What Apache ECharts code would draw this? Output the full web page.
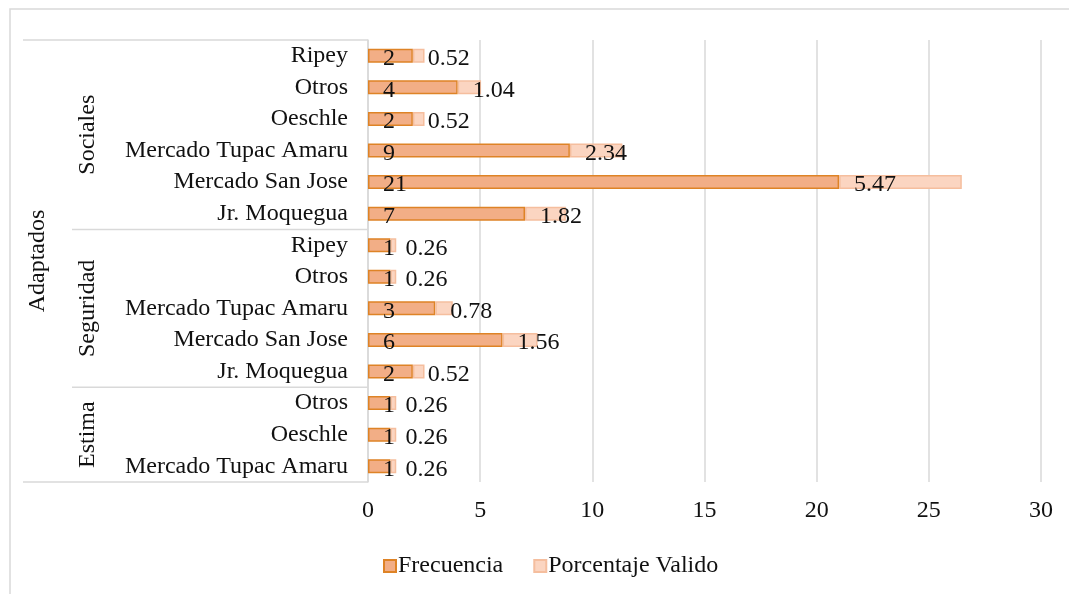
<!DOCTYPE html>
<html>
<head>
<meta charset="utf-8">
<script src="https://cdn.jsdelivr.net/npm/echarts@6/dist/echarts.min.js"></script>
<style>
  html, body { margin: 0; padding: 0; background: #fff; }
  #chart { width: 1069px; height: 594px; }
</style>
</head>
<body>
<div id="chart"></div>
<script>
// top-level group and its sub-groups (top to bottom)
var topGroup = 'Adaptados';
var groupNames = ['Sociales', 'Seguridad', 'Estima'];
var groupItems = [
  ['Ripey', 'Otros', 'Oeschle', 'Mercado Tupac Amaru', 'Mercado San Jose', 'Jr. Moquegua'],
  ['Ripey', 'Otros', 'Mercado Tupac Amaru', 'Mercado San Jose', 'Jr. Moquegua'],
  ['Otros', 'Oeschle', 'Mercado Tupac Amaru']
];
var frecuencia = [2, 4, 2, 9, 21, 7, 1, 1, 3, 6, 2, 1, 1, 1];
var porcentaje = [0.52, 1.04, 0.52, 2.34, 5.47, 1.82, 0.26, 0.26, 0.78, 1.56, 0.52, 0.26, 0.26, 0.26];
var xTicks = [0, 5, 10, 15, 20, 25, 30];

var FONT = 'Liberation Serif, Times New Roman, serif';
var FS = 24;
var TXT = '#111';

// unique keys for the category axis (same item name appears in several groups)
var catKeys = [];
groupNames.forEach(function (g, gi) {
  groupItems[gi].forEach(function (it) { catKeys.push(g + '|' + it); });
});

var chart = echarts.init(document.getElementById('chart'));

var option = {
  animation: false,
  grid: { left: 368, right: 28, top: 40, bottom: 112 },
  legend: {
    left: 378, top: 549,
    icon: 'rect',
    itemWidth: 12, itemHeight: 12, itemGap: 30,
    textStyle: { fontFamily: FONT, fontSize: FS, color: TXT, padding: [0, 0, 0, -3] },
    data: ['Frecuencia', 'Porcentaje Valido']
  },
  xAxis: {
    type: 'value',
    min: xTicks[0], max: xTicks[xTicks.length - 1], interval: xTicks[1] - xTicks[0],
    axisLine: { show: false },
    axisTick: { show: false },
    axisLabel: { fontFamily: FONT, fontSize: FS, color: TXT, margin: 17 },
    splitLine: { lineStyle: { color: '#D9D9D9', width: 1.5 } }
  },
  yAxis: {
    type: 'category',
    inverse: true,
    data: catKeys,
    axisLine: { lineStyle: { color: '#D9D9D9', width: 1.5 } },
    axisTick: { show: false },
    axisLabel: {
      fontFamily: FONT, fontSize: FS, color: TXT, margin: 20,
      formatter: function (v) { return v.split('|')[1]; }
    }
  },
  series: [
    {
      name: 'Frecuencia', type: 'bar', stack: 'a', barWidth: 14,
      itemStyle: { color: '#F2AE86', borderColor: '#DE8326', borderWidth: 1.5 },
      label: {
        show: true, position: 'insideLeft', distance: 15, offset: [0, 3],
        fontFamily: FONT, fontSize: FS, color: TXT
      },
      data: frecuencia
    },
    {
      name: 'Porcentaje Valido', type: 'bar', stack: 'a', barWidth: 14,
      itemStyle: { color: '#FBD5C1', borderColor: '#F5BE9E', borderWidth: 1.5 },
      label: {
        show: true, position: 'insideLeft', distance: 15, offset: [0, 3],
        fontFamily: FONT, fontSize: FS, color: TXT
      },
      data: porcentaje
    }
  ]
};
chart.setOption(option);

// multi-level category labels and separators, placed from the axis scale
var c0 = chart.convertToPixel({ yAxisIndex: 0 }, catKeys[0]);
var c1 = chart.convertToPixel({ yAxisIndex: 0 }, catKeys[1]);
var band = c1 - c0;
var axisX = chart.convertToPixel({ xAxisIndex: 0 }, 0);
var topY = c0 - band / 2;
var botY = chart.convertToPixel({ yAxisIndex: 0 }, catKeys[catKeys.length - 1]) + band / 2;
var line = function (x1, y1, x2, y2) {
  return { type: 'line', silent: true, shape: { x1: x1, y1: y1, x2: x2, y2: y2 },
           style: { stroke: '#D9D9D9', lineWidth: 1.5 } };
};
var txt = function (s, x, y) {
  return { type: 'text', x: x, y: y, rotation: Math.PI / 2, silent: true,
           style: { text: s, font: FS + 'px ' + FONT, fill: TXT, align: 'center', verticalAlign: 'middle' } };
};
var graphics = [
  { type: 'rect', silent: true, shape: { x: 10, y: 9, width: 1200, height: 800 },
    style: { fill: 'none', stroke: '#D9D9D9', lineWidth: 1.5 } },
  line(23, topY, axisX, topY),
  line(23, botY, axisX, botY),
  txt(topGroup, 38, (topY + botY) / 2)
];
var idx = 0;
groupNames.forEach(function (g, gi) {
  var gTop = topY + idx * band;
  idx += groupItems[gi].length;
  var gBot = topY + idx * band;
  if (gi < groupNames.length - 1) graphics.push(line(72, gBot, axisX, gBot));
  graphics.push(txt(g, 88, (gTop + gBot) / 2));
});
chart.setOption({ graphic: graphics });
</script>
</body>
</html>
